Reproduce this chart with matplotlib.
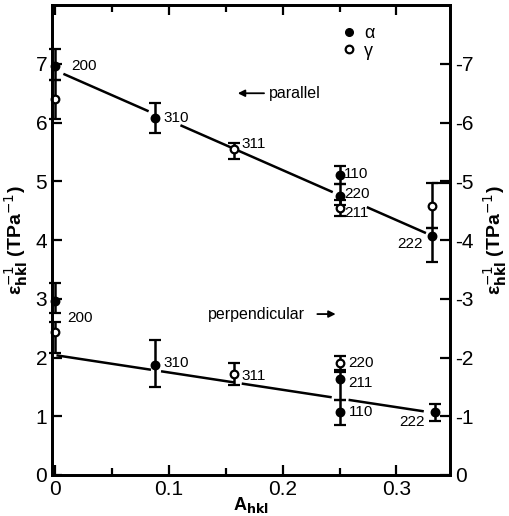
import numpy as np
import matplotlib.pyplot as plt
from matplotlib import ticker
from matplotlib.lines import Line2D

plt.rcParams['font.family'] = ['Liberation Sans', 'DejaVu Sans']

# parallel direction: value, upper and lower bar ends, phase (a = alpha, g = gamma)
par_x = [0.0, 0.0, 0.088, 0.157, 0.25, 0.25, 0.25, 0.331, 0.331]
par_y = [6.97, 6.41, 6.08, 5.55, 5.10, 4.75, 4.55, 4.58, 4.07]
par_hi = [7.25, 6.72, 6.34, 5.66, 5.26, 4.95, 4.68, 4.97, 4.20]
par_lo = [6.72, 6.07, 5.83, 5.38, 4.95, 4.60, 4.41, 4.20, 3.62]
par_phase = ['a', 'g', 'a', 'g', 'a', 'a', 'g', 'g', 'a']

# perpendicular direction
per_x = [0.0, 0.0, 0.088, 0.157, 0.25, 0.25, 0.25, 0.334]
per_y = [2.97, 2.43, 1.88, 1.72, 1.90, 1.64, 1.08, 1.08]
per_hi = [3.27, 2.60, 2.30, 1.90, 2.02, 1.78, 1.28, 1.21]
per_lo = [2.75, 2.07, 1.49, 1.53, 1.75, 1.28, 0.85, 0.92]
per_phase = ['a', 'g', 'a', 'g', 'g', 'a', 'a', 'a']

# reflection labels: (text, x, y, ha)
par_labels = [('200', 0.014, 6.97, 'left'), ('310', 0.095, 6.08, 'left'),
              ('311', 0.164, 5.64, 'left'), ('110', 0.254, 5.12, 'left'),
              ('220', 0.254, 4.79, 'left'), ('211', 0.254, 4.46, 'left'),
              ('222', 0.323, 3.93, 'right')]
per_labels = [('200', 0.010, 2.67, 'left'), ('310', 0.095, 1.90, 'left'),
              ('311', 0.164, 1.68, 'left'), ('220', 0.258, 1.90, 'left'),
              ('211', 0.258, 1.57, 'left'), ('110', 0.258, 1.08, 'left'),
              ('222', 0.325, 0.90, 'right')]

# fitted lines, drawn in pieces around the labels
par_fit = (6.89, -8.5)
par_segments = [(0.008, 0.081), (0.111, 0.243), (0.275, 0.325)]
per_fit = (2.04, -2.95)
per_segments = [(0.002, 0.083), (0.094, 0.156), (0.165, 0.242), (0.259, 0.323)]

fig = plt.figure(figsize=(5.10, 5.16), dpi=100)
ax = fig.add_axes([0.102, 0.0795, 0.780, 0.9105])


def draw_set(xs, ys, his, los, phases):
    for x, y, hi, lo, ph in zip(xs, ys, his, los, phases):
        ax.errorbar(x, y, yerr=[[y - lo], [hi - y]], fmt='o', ms=5.5,
                    mfc='black' if ph == 'a' else 'white', mec='black',
                    mew=1.6, ecolor='black', elinewidth=1.8, capsize=4,
                    capthick=1.6, zorder=3, clip_on=False)


draw_set(par_x, par_y, par_hi, par_lo, par_phase)
draw_set(per_x, per_y, per_hi, per_lo, per_phase)

for (b, m), segs in [(par_fit, par_segments), (per_fit, per_segments)]:
    for x0, x1 in segs:
        xx = np.array([x0, x1])
        ax.plot(xx, b + m * xx, color='black', lw=1.8)

for txt, x, y, ha in par_labels + per_labels:
    ax.text(x, y, txt, ha=ha, va='center', fontsize=11)

# odd bracket from the 222 bar to the right spine
ax.hlines(par_hi[7], par_x[7], 0.347, color='black', lw=1.6)

ax.annotate('', xy=(0.158, 6.5), xytext=(0.186, 6.5),
            arrowprops=dict(arrowstyle='-|>', color='black', lw=1.3))
ax.text(0.188, 6.5, 'parallel', ha='left', va='center', fontsize=11.5)
ax.text(0.134, 2.74, 'perpendicular', ha='left', va='center', fontsize=11.5)
ax.annotate('', xy=(0.249, 2.74), xytext=(0.228, 2.74),
            arrowprops=dict(arrowstyle='-|>', color='black', lw=1.3))

handles = [Line2D([], [], ls='none', marker='o', ms=5.5, mfc='black', mec='black'),
           Line2D([], [], ls='none', marker='o', ms=5.5, mfc='white', mec='black', mew=1.6)]
ax.legend(handles, ['α', 'γ'], frameon=False, fontsize=13,
          loc='upper left', bbox_to_anchor=(0.68, 0.985), handletextpad=0.1,
          labelspacing=0.05, borderpad=0.2, handlelength=1.5)

ax.set_xlim(-0.003, 0.347)
ax.set_ylim(0, 8)
ax.xaxis.set_major_locator(ticker.FixedLocator([0, 0.1, 0.2, 0.3]))
ax.xaxis.set_minor_locator(ticker.FixedLocator([0.05, 0.15, 0.25]))
ax.xaxis.set_major_formatter(ticker.FixedFormatter(['0', '0.1', '0.2', '0.3']))
ax.set_yticks(range(0, 8))
ax.tick_params(axis='both', which='major', direction='in', length=7, width=1.6,
               labelsize=15, top=True)
ax.tick_params(axis='x', which='minor', direction='in', length=5, width=1.6, top=True)
for s in ax.spines.values():
    s.set_linewidth(2)

ylab = r'ε$^{-1}_{\mathbf{hkl}}$ (TPa$^{-1}$)'
ax.set_ylabel(ylab, fontsize=14, fontweight='bold', labelpad=4)
ax.set_xlabel(r'A$_{\mathbf{hkl}}$', fontsize=13, fontweight='bold', labelpad=-3)

ax2 = ax.twinx()
ax2.set_ylim(0, 8)
ax2.set_yticks(range(0, 8))
ax2.set_yticklabels(['0'] + ['-%d' % i for i in range(1, 8)])
ax2.tick_params(axis='y', direction='in', length=7, width=1.6, labelsize=15)
ax2.set_ylabel(ylab, fontsize=14, fontweight='bold', labelpad=6)
for s in ax2.spines.values():
    s.set_linewidth(2)

fig.savefig('out.png', dpi=100)
